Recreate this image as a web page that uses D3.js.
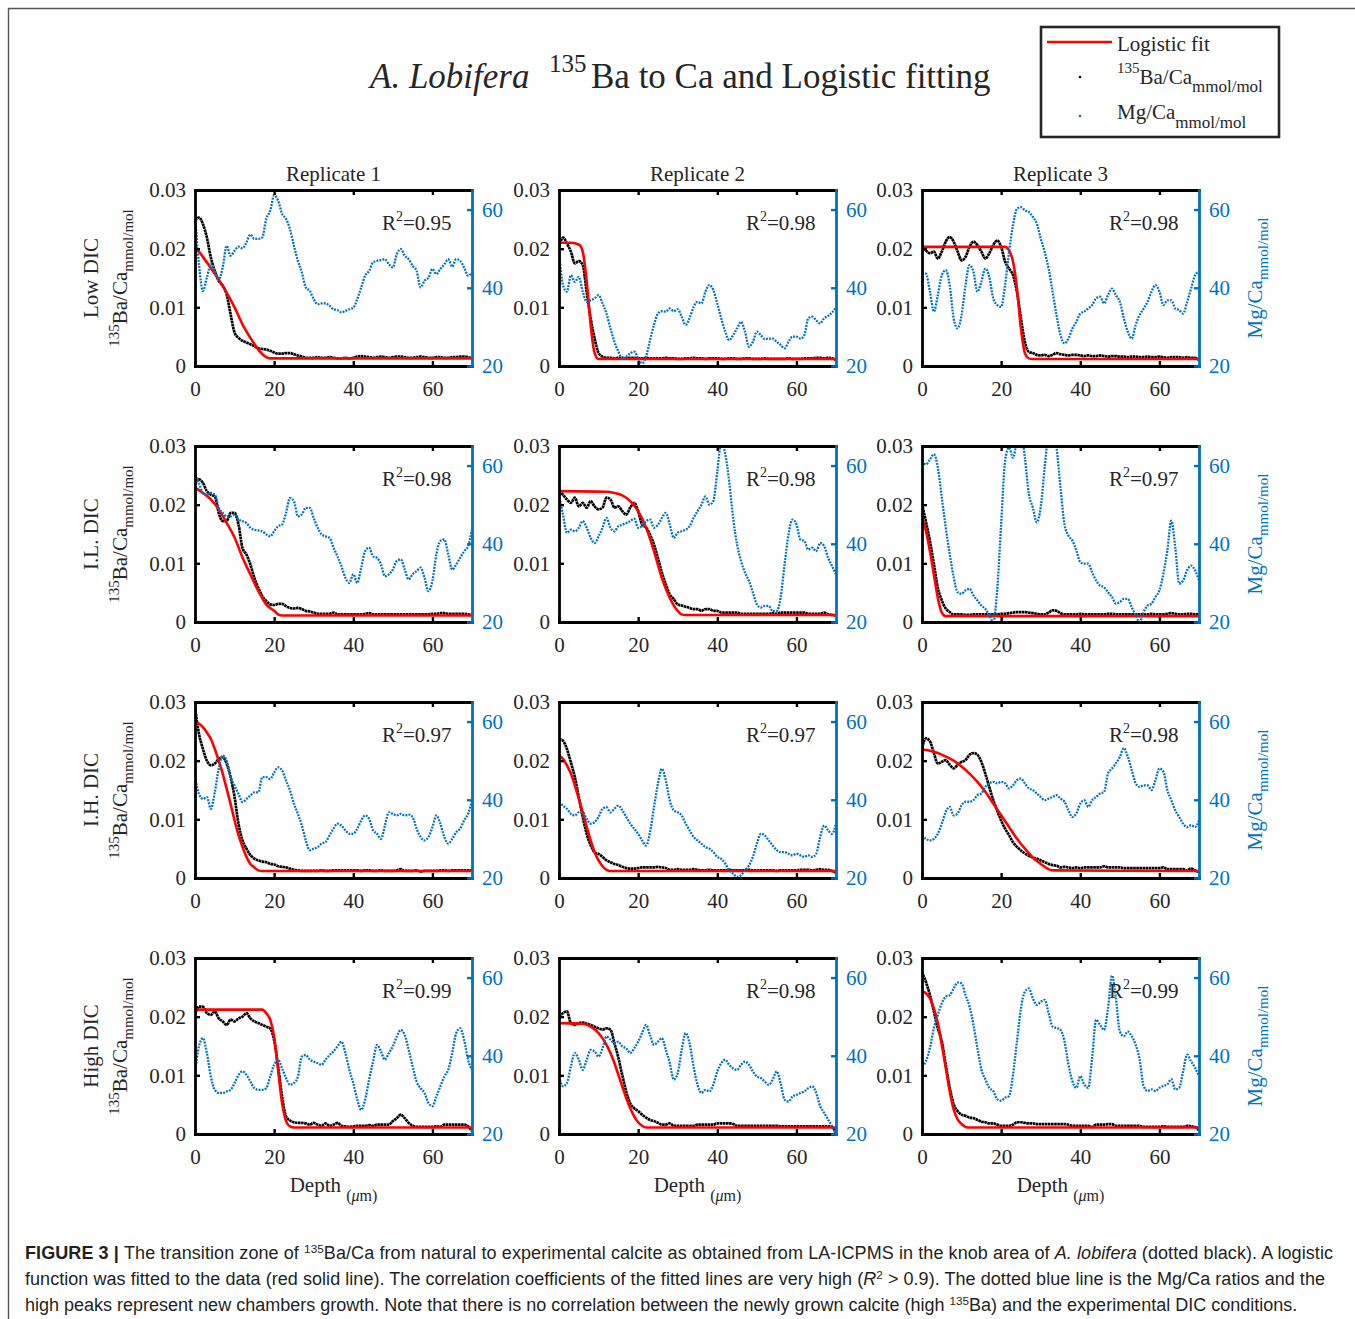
<!DOCTYPE html>
<html><head><meta charset="utf-8">
<script src="https://cdn.jsdelivr.net/npm/d3@7"></script>
<style>
html,body{margin:0;padding:0;background:#fff;}
svg{display:block;}
</style></head>
<body>
<svg id="fig" width="1355" height="1319"></svg>
<script>
// ---------------- DATA ----------------
const depth = [0,1,2,3,4,5,6,7,8,9,10,11,12,13,14,15,16,17,18,19,20,21,22,23,24,25,26,27,28,29,30,31,32,33,34,35,36,37,38,39,40,41,42,43,44,45,46,47,48,49,50,51,52,53,54,55,56,57,58,59,60,61,62,63,64,65,66,67,68,69,70];
const rowNames = ["Low DIC","I.L. DIC","I.H. DIC","High DIC"];
const colNames = ["Replicate 1","Replicate 2","Replicate 3"];
const r2Values = [["0.95","0.98","0.98"],["0.98","0.98","0.97"],["0.97","0.97","0.98"],["0.99","0.98","0.99"]];
const xTicks = [0,20,40,60];
const baTicks = [0,0.01,0.02,0.03];
const baTickLabels = ["0","0.01","0.02","0.03"];
const mgTicks = [20,40,60];

// Low DIC
const baLow1 = [0.0248,0.0253,0.0242,0.0219,0.0185,0.0162,0.0145,0.0137,0.0122,0.0088,0.0057,0.0048,0.0043,0.0040,0.0037,0.0034,0.0030,0.0029,0.0028,0.0026,0.0023,0.0021,0.0021,0.0022,0.0022,0.0020,0.0018,0.0016,0.0014,0.0014,0.0014,0.0015,0.0014,0.0014,0.0015,0.0014,0.0013,0.0013,0.0014,0.0013,0.0014,0.0016,0.0017,0.0016,0.0015,0.0014,0.0015,0.0016,0.0015,0.0014,0.0015,0.0016,0.0016,0.0015,0.0014,0.0014,0.0015,0.0016,0.0015,0.0014,0.0014,0.0015,0.0015,0.0014,0.0014,0.0015,0.0015,0.0016,0.0016,0.0015,0.0013];
const mgLow1 = [59,46,39.2,42.6,46,44.3,42.2,45.2,50.7,48.2,49.5,50.5,50.1,51.6,53.6,52.5,52.5,52.9,57.6,59.7,63.6,62.3,58.9,57.6,55,50.7,46.9,43.9,40.1,39.2,37.1,35.8,36,36,35.4,34.5,34.3,33.7,34.1,34.5,34.9,37.1,40.1,43.1,44.3,46.5,46.9,47.1,47.3,46,45.2,48.6,49.9,48.2,47.3,45.6,44.3,40.1,41.8,42.6,44.8,43.5,44.8,46,47.3,45.4,47.3,46.9,45.2,43.1,43.9];
const fitLow1x = [0,2,4,6,8,10,12,14,16,18,19,70];
const fitLow1y = [0.0204,0.0186,0.0167,0.0147,0.0125,0.0100,0.0071,0.0048,0.0028,0.0015,0.0013,0.0013];

const baLow2 = [0.0203,0.0219,0.0209,0.0195,0.0175,0.0179,0.0172,0.0126,0.0081,0.0047,0.0022,0.0016,0.0014,0.0014,0.0013,0.0014,0.0014,0.0013,0.0014,0.0014,0.0013,0.0013,0.0014,0.0013,0.0013,0.0013,0.0013,0.0014,0.0013,0.0013,0.0012,0.0012,0.0013,0.0013,0.0014,0.0013,0.0013,0.0012,0.0013,0.0013,0.0013,0.0012,0.0012,0.0013,0.0013,0.0012,0.0012,0.0013,0.0013,0.0012,0.0012,0.0012,0.0013,0.0012,0.0012,0.0012,0.0012,0.0012,0.0013,0.0012,0.0012,0.0012,0.0013,0.0013,0.0013,0.0014,0.0014,0.0013,0.0014,0.0013,0.0010];
const mgLow2 = [49.2,40.7,39,43.2,41.5,42.8,39,36.4,36.8,37.3,38.1,36,33.4,29.6,26.2,23.7,21.8,22.4,23.2,23.7,22,20.7,22.4,26.6,30.5,33.4,34,33.9,34.7,34,34.5,32.6,30.5,32.2,35.1,36.4,36,39,40.7,39.4,36,32.2,28.8,26.6,27.9,29.6,31.3,28.8,24.9,26.2,28.8,27.9,26.9,27,27,26.2,25.4,24.5,26.2,27.5,27.5,27,27.9,32.2,32.6,31.7,30.9,32.2,32.8,33.7,34.9];
const fitLow2x = [0,3,5,6,7,8,9,10,11,70];
const fitLow2y = [0.0210,0.0210,0.0207,0.0195,0.0144,0.0070,0.0022,0.0012,0.0012,0.0012];

const baLow3 = [0.0206,0.0197,0.0192,0.0195,0.0183,0.0195,0.0212,0.0220,0.0212,0.0195,0.0180,0.0186,0.0203,0.0212,0.0206,0.0195,0.0183,0.0192,0.0206,0.0214,0.0203,0.0178,0.0166,0.0155,0.0126,0.0081,0.0041,0.0024,0.0022,0.0019,0.0018,0.0019,0.0017,0.0019,0.0022,0.0020,0.0019,0.0018,0.0019,0.0019,0.0018,0.0017,0.0018,0.0017,0.0017,0.0018,0.0017,0.0016,0.0017,0.0017,0.0016,0.0016,0.0015,0.0016,0.0016,0.0015,0.0015,0.0016,0.0015,0.0015,0.0016,0.0015,0.0014,0.0015,0.0015,0.0015,0.0014,0.0015,0.0014,0.0014,0.0010];
const mgLow3 = [43.6,43.6,39,33.9,38.1,43.2,44.5,40.7,32.2,29.6,33,40.7,45.8,44.1,39,41.5,44.9,42.8,37.3,35.6,35.1,40.7,49.2,56,60.2,60.6,59.8,59.4,58.1,56.4,52.6,49.2,44.9,39,33,27.9,25.8,27,29.6,31.3,33.4,33.9,34.7,35.6,37.3,37.7,36,38.1,39.8,38.1,36.4,32.2,28.8,27,30.5,33,34.7,36.4,39,40.7,39,35.6,36.8,36.8,34.7,34.3,33.4,36.4,39.8,43.2,44.1];
const fitLow3x = [0,21,22,23,24,25,26,27,28,70];
const fitLow3y = [0.0203,0.0203,0.0197,0.0178,0.0132,0.0064,0.0022,0.0013,0.0012,0.0012];

// I.L. DIC
const baIL1 = [0.0234,0.0243,0.0237,0.0223,0.0217,0.0214,0.0186,0.0172,0.0172,0.0186,0.0186,0.0166,0.0126,0.0115,0.0098,0.0075,0.0058,0.0044,0.0036,0.0030,0.0029,0.0031,0.0031,0.0027,0.0024,0.0023,0.0024,0.0022,0.0019,0.0018,0.0016,0.0014,0.0014,0.0014,0.0014,0.0016,0.0013,0.0013,0.0013,0.0013,0.0013,0.0013,0.0013,0.0014,0.0015,0.0013,0.0013,0.0013,0.0013,0.0013,0.0013,0.0013,0.0013,0.0013,0.0013,0.0013,0.0013,0.0013,0.0013,0.0013,0.0014,0.0014,0.0015,0.0015,0.0014,0.0014,0.0014,0.0014,0.0014,0.0013,0.0012];
const mgIL1 = [57.7,55.5,53,52.6,53,52.6,49.2,47.9,47,47,47.5,46.2,45.8,45.3,44.1,43.6,43.4,43.2,42.4,41.9,43.2,44.5,44.9,47.9,51.7,50.9,47,47.5,49.2,49.2,46.6,44.1,42.4,41.9,41.5,39,36.8,34.3,31.3,30,32.2,30,33.9,38.1,39,36.8,36.4,34.7,31.7,32.2,33.4,35.6,36,33.4,30.9,32.2,33,33.9,31.3,27.9,30.5,37.3,40.7,41.1,37.3,33.4,34.7,36.4,38.1,39.4,43.6];
const fitIL1x = [0,2,4,6,8,10,12,14,16,18,20,21,22,70];
const fitIL1y = [0.0229,0.0220,0.0209,0.0192,0.0169,0.0144,0.0110,0.0081,0.0053,0.0030,0.0019,0.0013,0.0011,0.0011];

const baIL2 = [0.0223,0.0217,0.0209,0.0203,0.0212,0.0197,0.0203,0.0195,0.0206,0.0197,0.0192,0.0195,0.0212,0.0209,0.0195,0.0197,0.0189,0.0183,0.0195,0.0203,0.0189,0.0166,0.0161,0.0149,0.0132,0.0109,0.0084,0.0064,0.0047,0.0039,0.0030,0.0028,0.0026,0.0024,0.0022,0.0022,0.0019,0.0022,0.0022,0.0019,0.0019,0.0016,0.0016,0.0016,0.0016,0.0016,0.0014,0.0014,0.0014,0.0014,0.0014,0.0014,0.0014,0.0014,0.0015,0.0014,0.0016,0.0016,0.0016,0.0016,0.0016,0.0016,0.0016,0.0014,0.0014,0.0014,0.0014,0.0016,0.0013,0.0012,0.0011];
const mgIL2 = [52.6,47.5,42.8,43.6,43.2,44.1,45.8,44.1,41.5,40.2,41.9,44.1,46.6,44.1,43.2,44.5,44.9,45.3,45.8,46.4,44.1,44.5,45.8,46.2,44.1,44.9,46.6,47.9,44.9,41.5,42.8,43.2,43.6,44.5,46.6,48.3,50,52.1,50,50.9,58.5,66,63,56,46.6,39.8,35.6,32.6,30.5,27.5,24.5,23.7,24.1,24.1,22.8,22.8,26.2,34.7,42.4,46.2,44.9,41.1,40.7,38.5,39,38.1,40.2,39.4,36.4,34.3,32.2];
const fitIL2x = [0,12,14,16,18,20,22,24,26,28,30,31,32,70];
const fitIL2y = [0.0223,0.0222,0.0220,0.0216,0.0206,0.0189,0.0161,0.0121,0.0075,0.0041,0.0019,0.0013,0.0012,0.0012];

const baIL3 = [0.0201,0.0171,0.0138,0.0099,0.0058,0.0037,0.0023,0.0017,0.0013,0.0013,0.0013,0.0012,0.0012,0.0013,0.0013,0.0013,0.0013,0.0013,0.0013,0.0013,0.0014,0.0014,0.0015,0.0016,0.0017,0.0017,0.0017,0.0016,0.0015,0.0014,0.0013,0.0013,0.0016,0.0020,0.0019,0.0015,0.0013,0.0013,0.0013,0.0013,0.0014,0.0013,0.0013,0.0013,0.0013,0.0013,0.0013,0.0014,0.0014,0.0013,0.0013,0.0013,0.0013,0.0013,0.0013,0.0013,0.0013,0.0013,0.0014,0.0013,0.0013,0.0013,0.0014,0.0015,0.0014,0.0013,0.0013,0.0014,0.0014,0.0013,0.0013];
const mgIL3 = [61.2,60.3,61.6,62.9,59.5,51.8,44.2,37.4,31.5,27.6,27.2,28.1,28.5,26.8,25.5,24.2,23.4,21.7,20,28.1,45,61.2,64.6,62,66.3,68.8,62,52.7,49.3,45.5,49.3,59.5,68,69.7,64.6,54.4,45,42.1,40.8,38.3,35.3,34.9,34.9,32.7,30.6,29.3,28.9,27.6,26.4,24.7,25.1,25.9,25.9,23.8,21.7,20,22.5,24.2,24.7,26.4,28.1,32.3,38.3,45.9,39.1,29.8,30.6,33.2,34.4,33.2,30.6];
const fitIL3x = [0,1,2,3,4,5,6,70];
const fitIL3y = [0.0177,0.0155,0.0121,0.0081,0.0041,0.0016,0.0010,0.0010];

// I.H. DIC
const baIH1 = [0.0291,0.0246,0.0220,0.0200,0.0192,0.0195,0.0203,0.0206,0.0195,0.0172,0.0138,0.0092,0.0064,0.0050,0.0039,0.0033,0.0030,0.0028,0.0027,0.0024,0.0023,0.0020,0.0019,0.0018,0.0016,0.0014,0.0013,0.0012,0.0012,0.0012,0.0012,0.0012,0.0013,0.0012,0.0012,0.0013,0.0013,0.0013,0.0013,0.0013,0.0013,0.0013,0.0012,0.0013,0.0013,0.0012,0.0012,0.0013,0.0012,0.0012,0.0012,0.0013,0.0015,0.0012,0.0012,0.0012,0.0013,0.0011,0.0012,0.0012,0.0012,0.0012,0.0013,0.0013,0.0012,0.0013,0.0013,0.0013,0.0013,0.0013,0.0013];
const mgIH1 = [45.8,41.5,40.2,40.7,37.7,41.9,47.9,51.3,50,45.8,43.6,41.5,39.4,40.2,41.1,41.9,41.9,45.8,45.8,45.3,47,48.3,47.5,44.9,42.4,39,36.4,33.4,29.6,27.1,27.5,27.9,28.8,29.2,30.9,32.6,33.9,33.4,32.2,31.3,31.3,32.6,34.7,36,35.1,32.2,31.3,30,33.4,36.8,36.4,36,36.4,36,36.2,35.6,32.6,30.5,29.6,30.5,33,36,33.9,30.5,28.8,30,31.7,32.6,34.7,36.4,39.8];
const fitIH1x = [0,1,2,3,4,5,6,7,8,9,10,11,12,13,14,15,16,17,70];
const fitIH1y = [0.0265,0.0263,0.0257,0.0248,0.0237,0.0220,0.0200,0.0178,0.0152,0.0126,0.0098,0.0073,0.0053,0.0036,0.0024,0.0018,0.0013,0.0012,0.0012];

const baIH2 = [0.0237,0.0234,0.0220,0.0197,0.0172,0.0138,0.0104,0.0075,0.0056,0.0044,0.0041,0.0036,0.0030,0.0027,0.0024,0.0022,0.0019,0.0017,0.0016,0.0016,0.0017,0.0018,0.0018,0.0018,0.0018,0.0019,0.0018,0.0017,0.0014,0.0014,0.0015,0.0014,0.0014,0.0014,0.0015,0.0014,0.0013,0.0013,0.0014,0.0013,0.0013,0.0013,0.0013,0.0014,0.0013,0.0013,0.0013,0.0013,0.0014,0.0013,0.0013,0.0013,0.0013,0.0013,0.0013,0.0012,0.0013,0.0013,0.0013,0.0013,0.0013,0.0014,0.0014,0.0014,0.0013,0.0014,0.0015,0.0014,0.0014,0.0012,0.0009];
const mgIH2 = [39.4,38.5,37.7,36.4,36,36.8,36.8,35.1,33.9,34.3,35.6,37.7,38.1,36.8,37.7,38.5,37.3,35.6,33.9,32.6,31.3,29.6,28.3,31.7,38.1,44.1,47.9,44.9,39.8,37.3,36.8,36,33.9,32.2,30.5,29.6,28.8,27.9,27.5,26.6,25.4,24.9,23.7,22,21.1,20.3,20.7,22,23.2,25.4,28.8,31.3,30.9,29.6,28.3,27.1,26.6,26.6,26.2,25.8,26.2,25.8,25.4,25.8,25.4,26.2,30.5,33.4,32.2,31.3,33.9];
const fitIH2x = [0,1,2,3,4,5,6,7,8,9,10,11,12,13,70];
const fitIH2y = [0.0209,0.0203,0.0192,0.0178,0.0158,0.0135,0.0112,0.0087,0.0064,0.0044,0.0030,0.0020,0.0014,0.0012,0.0012];

const baIH3 = [0.0221,0.0238,0.0233,0.0213,0.0195,0.0198,0.0201,0.0193,0.0187,0.0193,0.0198,0.0201,0.0210,0.0213,0.0210,0.0198,0.0178,0.0155,0.0133,0.0115,0.0098,0.0084,0.0073,0.0061,0.0053,0.0047,0.0042,0.0038,0.0035,0.0033,0.0030,0.0027,0.0024,0.0022,0.0021,0.0018,0.0019,0.0018,0.0017,0.0018,0.0017,0.0018,0.0018,0.0018,0.0018,0.0018,0.0020,0.0018,0.0018,0.0018,0.0018,0.0017,0.0017,0.0017,0.0017,0.0017,0.0017,0.0017,0.0017,0.0017,0.0017,0.0018,0.0015,0.0015,0.0015,0.0015,0.0015,0.0013,0.0016,0.0013,0.0010];
const mgIH3 = [30.9,30,29.6,30,31.3,33.9,36.9,38.2,36,36.5,38.6,39.5,39.5,39.9,41.2,41.6,43.3,44.2,44.6,44.2,44.6,44.2,42.9,43.7,45,45.4,44.2,42.9,42.5,41.6,40.7,39.9,40.3,40.7,41.2,40.3,39.5,37.3,35.6,36.5,39,39.9,38.2,39.9,40.7,41.6,42,46.7,48,49.3,51,53.2,51,47.6,44.2,43.3,43.7,43.7,42.5,45,48,47.2,42.5,39.9,37.3,35.6,33.9,33,33.5,33,34.7];
const fitIH3x = [0,2,4,6,8,10,12,14,16,18,20,22,24,26,28,30,32,33,70];
const fitIH3y = [0.0219,0.0217,0.0213,0.0207,0.0200,0.0190,0.0178,0.0164,0.0147,0.0127,0.0107,0.0087,0.0067,0.0050,0.0035,0.0024,0.0015,0.0013,0.0012];

// High DIC
const baHigh1 = [0.0203,0.0217,0.0217,0.0206,0.0203,0.0209,0.0197,0.0192,0.0186,0.0195,0.0192,0.0197,0.0200,0.0206,0.0197,0.0192,0.0189,0.0186,0.0183,0.0180,0.0160,0.0115,0.0064,0.0030,0.0023,0.0020,0.0019,0.0019,0.0018,0.0016,0.0019,0.0016,0.0014,0.0018,0.0014,0.0016,0.0019,0.0014,0.0013,0.0012,0.0013,0.0014,0.0014,0.0014,0.0015,0.0014,0.0016,0.0016,0.0016,0.0016,0.0022,0.0027,0.0033,0.0027,0.0019,0.0014,0.0012,0.0012,0.0012,0.0012,0.0012,0.0013,0.0012,0.0016,0.0016,0.0016,0.0016,0.0016,0.0016,0.0013,0.0005];
const mgHigh1 = [35.6,42.4,44.5,40.7,34.7,31.3,30.5,30.5,30.9,31.3,33,35.1,36,35.1,33.4,31.7,31.3,31.3,31.7,34.7,37.7,39,36.8,34.3,32.6,33,34.7,39.8,40.2,39,38.5,38.1,37.7,39,40.2,41.1,42.4,43.6,40.7,36.4,33,28.8,26.2,28.8,33.9,38.5,42.8,41.1,39,40.7,42.4,44.9,46.6,45.3,41.5,37.3,33.4,31.7,30.5,27.9,27.1,29.6,32.2,34.7,36.4,40.7,45.8,47,44.1,39,36.4];
const fitHigh1x = [0,17,18,19,20,21,22,23,24,25,70];
const fitHigh1y = [0.0212,0.0212,0.0206,0.0195,0.0166,0.0109,0.0053,0.0022,0.0013,0.0011,0.0011];

const baHigh2 = [0.0200,0.0206,0.0209,0.0189,0.0186,0.0189,0.0190,0.0188,0.0186,0.0183,0.0180,0.0178,0.0180,0.0178,0.0155,0.0130,0.0100,0.0072,0.0052,0.0044,0.0039,0.0033,0.0028,0.0024,0.0022,0.0019,0.0016,0.0016,0.0018,0.0014,0.0014,0.0014,0.0014,0.0014,0.0014,0.0016,0.0016,0.0016,0.0016,0.0016,0.0018,0.0018,0.0018,0.0018,0.0017,0.0014,0.0014,0.0014,0.0014,0.0014,0.0014,0.0014,0.0014,0.0014,0.0014,0.0014,0.0013,0.0013,0.0013,0.0013,0.0013,0.0013,0.0013,0.0013,0.0013,0.0013,0.0013,0.0013,0.0013,0.0012,0.0002];
const mgHigh2 = [34.7,32.2,33,37.3,40.7,39,36.4,39,41.5,41.1,39.8,41.9,44.9,44.1,43.2,43.6,42.4,41.9,40.7,41.9,43.6,45.8,47.9,45.3,42.8,43.6,44.5,41.5,38.1,33.9,35.6,41.5,45.8,43.2,37.3,32.6,30.5,31.3,30.9,32.6,36,38.1,39,37.7,36.8,36.4,37.7,38.5,37.7,36,34.7,34.3,33.4,32.6,33.9,36,33,28.8,28.3,29.6,30,30.5,30.9,31.7,32.2,30.5,27.1,25.4,23.7,22,19.8];
const fitHigh2x = [0,6,8,10,11,12,13,14,15,16,17,18,19,20,21,22,70];
const fitHigh2y = [0.0189,0.0188,0.0183,0.0172,0.0163,0.0152,0.0138,0.0121,0.0101,0.0081,0.0061,0.0044,0.0030,0.0020,0.0014,0.0011,0.0011];

const baHigh3 = [0.0276,0.0259,0.0237,0.0209,0.0180,0.0158,0.0118,0.0079,0.0051,0.0039,0.0033,0.0031,0.0028,0.0027,0.0024,0.0021,0.0020,0.0018,0.0018,0.0016,0.0014,0.0014,0.0014,0.0016,0.0020,0.0020,0.0019,0.0018,0.0018,0.0017,0.0017,0.0017,0.0017,0.0017,0.0017,0.0017,0.0017,0.0016,0.0014,0.0014,0.0014,0.0014,0.0014,0.0012,0.0016,0.0016,0.0016,0.0017,0.0017,0.0014,0.0014,0.0014,0.0014,0.0014,0.0014,0.0014,0.0012,0.0012,0.0012,0.0012,0.0012,0.0013,0.0012,0.0012,0.0012,0.0012,0.0012,0.0014,0.0013,0.0012,0.0006];
const mgHigh3 = [37.3,38.6,42,47.1,50.5,53.4,55.1,55.5,57.2,58.7,58.5,55.5,52.6,47.9,42,36.5,34,31.8,31,28.9,28.5,29.3,29.7,35.2,43.7,52.1,56.4,57.2,54.7,53,53.8,54.3,50.9,47.5,47.1,46.6,43.7,37.8,33.5,31.8,34.8,32.7,31.8,39.5,49.2,47.9,46.6,52.1,60.5,54.7,46.2,45,46.2,45,42.8,39,32.3,31,31.4,31,31.8,32.3,32.7,34,31.4,31.8,36.1,40.3,38.6,36.9,34.8];
const fitHigh3x = [0,1,2,3,4,5,6,7,8,9,10,11,12,70];
const fitHigh3y = [0.0244,0.0240,0.0231,0.0214,0.0189,0.0152,0.0113,0.0073,0.0042,0.0025,0.0017,0.0012,0.0011,0.0011];

// ---------------- LAYOUT ----------------
const panels = [
  [{ba:baLow1,mg:mgLow1,fx:fitLow1x,fy:fitLow1y},{ba:baLow2,mg:mgLow2,fx:fitLow2x,fy:fitLow2y},{ba:baLow3,mg:mgLow3,fx:fitLow3x,fy:fitLow3y}],
  [{ba:baIL1,mg:mgIL1,fx:fitIL1x,fy:fitIL1y},{ba:baIL2,mg:mgIL2,fx:fitIL2x,fy:fitIL2y},{ba:baIL3,mg:mgIL3,fx:fitIL3x,fy:fitIL3y}],
  [{ba:baIH1,mg:mgIH1,fx:fitIH1x,fy:fitIH1y},{ba:baIH2,mg:mgIH2,fx:fitIH2x,fy:fitIH2y},{ba:baIH3,mg:mgIH3,fx:fitIH3x,fy:fitIH3y}],
  [{ba:baHigh1,mg:mgHigh1,fx:fitHigh1x,fy:fitHigh1y},{ba:baHigh2,mg:mgHigh2,fx:fitHigh2x,fy:fitHigh2y},{ba:baHigh3,mg:mgHigh3,fx:fitHigh3x,fy:fitHigh3y}]
];

const SERIF = "'Liberation Serif','Times New Roman',Times,serif";
const SANS = "'Liberation Sans',Arial,Helvetica,sans-serif";
const BLUE = "#0072BD", RED = "#FF0000", INK = "#262626";
const PW = 277, PH = 176;
const colX = [195, 559, 922];
const rowY = [190, 446, 702, 958];
const FS = 21;

const svg = d3.select("#fig");
svg.append("rect").attr("width",1355).attr("height",1319).attr("fill","#fff");

// outer frame (top + left)
svg.append("path").attr("d","M8.5,1319 V8.5 H1355").attr("fill","none").attr("stroke","#555").attr("stroke-width",1.4);

const defs = svg.append("defs");

panels.forEach((row, r) => row.forEach((p, c) => {
  const x0 = colX[c], y0 = rowY[r];
  const x = d3.scaleLinear().domain([0,70]).range([x0, x0+PW]);
  const yL = d3.scaleLinear().domain([0,0.03]).range([y0+PH, y0]);
  const yR = d3.scaleLinear().domain([20,65]).range([y0+PH, y0]);
  const id = `clip-${r}-${c}`;
  defs.append("clipPath").attr("id", id).append("rect")
    .attr("x", x0).attr("y", y0).attr("width", PW).attr("height", PH);
  const g = svg.append("g");
  const plot = g.append("g").attr("clip-path", `url(#${id})`);

  // Ba/Ca (black, dense dots)
  plot.append("path")
    .datum(depth.map((d,i)=>[d, p.ba[i]]))
    .attr("d", d3.line().x(d=>x(d[0])).y(d=>yL(d[1])).curve(d3.curveMonotoneX))
    .attr("fill","none").attr("stroke","#000").attr("stroke-width",2.7)
    .attr("stroke-dasharray","2.6,0.5");

  // logistic fit (red)
  plot.append("path")
    .datum(p.fx.map((d,i)=>[d, p.fy[i]]))
    .attr("d", d3.line().x(d=>x(d[0])).y(d=>yL(d[1])).curve(d3.curveMonotoneX))
    .attr("fill","none").attr("stroke",RED).attr("stroke-width",2.6);

  // Mg/Ca (blue dots)
  plot.append("path")
    .datum(depth.map((d,i)=>[d, p.mg[i]]))
    .attr("d", d3.line().x(d=>x(d[0])).y(d=>yR(d[1])).curve(d3.curveMonotoneX))
    .attr("fill","none").attr("stroke",BLUE).attr("stroke-width",2.3)
    .attr("stroke-dasharray","1.9,1.2");

  // axes
  const styleAxis = (sel, color) => {
    sel.select(".domain").attr("stroke", color).attr("stroke-width", 2.8).attr("stroke-linecap","square");
    sel.selectAll(".tick line").attr("stroke", color).attr("stroke-width", 2.4);
    sel.selectAll(".tick text").attr("fill", color).attr("font-family", SERIF).attr("font-size", FS);
  };
  const gTop = g.append("g").attr("transform",`translate(0,${y0})`)
    .call(d3.axisTop(x).tickValues([20,40,60]).tickSizeInner(-5).tickSizeOuter(0).tickFormat(""));
  styleAxis(gTop, "#000");
  const gBot = g.append("g").attr("transform",`translate(0,${y0+PH})`)
    .call(d3.axisBottom(x).tickValues(xTicks).tickSizeInner(-5).tickSizeOuter(0).tickPadding(15));
  styleAxis(gBot, "#000");
  gBot.selectAll(".tick text").attr("fill", INK);
  const gLeft = g.append("g").attr("transform",`translate(${x0},0)`)
    .call(d3.axisLeft(yL).tickValues(baTicks).tickSizeInner(-5).tickSizeOuter(0).tickPadding(9)
      .tickFormat((d,i)=>baTickLabels[i]));
  styleAxis(gLeft, "#000");
  gLeft.selectAll(".tick text").attr("fill", INK);
  const gRight = g.append("g").attr("transform",`translate(${x0+PW},0)`)
    .call(d3.axisRight(yR).tickValues(mgTicks).tickSizeInner(-5).tickSizeOuter(0).tickPadding(10));
  styleAxis(gRight, BLUE);

  // R^2 label
  const rt = g.append("text").attr("x", x0+187).attr("y", y0+40)
    .attr("font-family", SERIF).attr("font-size", FS).attr("fill", INK);
  rt.append("tspan").text("R");
  rt.append("tspan").attr("font-size",14).attr("dy",-9).text("2");
  rt.append("tspan").attr("dy",9).text("=" + r2Values[r][c]);

  // column titles
  if (r === 0) {
    g.append("text").attr("x", x0+PW/2).attr("y", y0-9).attr("text-anchor","middle")
      .attr("font-family", SERIF).attr("font-size", FS).attr("fill", INK).text(colNames[c]);
  }
  // depth labels
  if (r === 3) {
    const dt = g.append("text").attr("x", x0+PW/2).attr("y", y0+PH+58).attr("text-anchor","middle")
      .attr("font-family", SERIF).attr("font-size", FS).attr("fill", INK);
    dt.append("tspan").text("Depth ");
    dt.append("tspan").attr("font-size",16).attr("dy",9).text("(");
    dt.append("tspan").attr("font-size",16).attr("font-style","italic").text("\u03bc");
    dt.append("tspan").attr("font-size",16).text("m)");
  }
  // left row labels
  if (c === 0) {
    const gl = g.append("g").attr("transform",`translate(98,${y0+PH/2}) rotate(-90)`);
    gl.append("text").attr("text-anchor","middle").attr("font-family",SERIF).attr("font-size",FS)
      .attr("fill",INK).text(rowNames[r]);
    const t2 = gl.append("text").attr("y",29).attr("text-anchor","middle").attr("font-family",SERIF)
      .attr("font-size",FS).attr("fill",INK);
    t2.append("tspan").attr("font-size",15).attr("dy",-8).text("135");
    t2.append("tspan").attr("dy",8).text("Ba/Ca");
    t2.append("tspan").attr("font-size",15).attr("dy",6).text("mmol/mol");
  }
  // right labels
  if (c === 2) {
    const gr = g.append("g").attr("transform",`translate(1262,${y0+PH/2}) rotate(-90)`);
    const t3 = gr.append("text").attr("text-anchor","middle").attr("font-family",SERIF)
      .attr("font-size",FS).attr("fill",BLUE);
    t3.append("tspan").text("Mg/Ca");
    t3.append("tspan").attr("font-size",15).attr("dy",6).text("mmol/mol");
  }
}));

// ---------------- TITLE ----------------
svg.append("text").attr("x",370).attr("y",88).attr("font-family",SERIF).attr("font-size",35)
  .attr("font-style","italic").attr("fill",INK).text("A. Lobifera");
svg.append("text").attr("x",549).attr("y",72).attr("font-family",SERIF).attr("font-size",25)
  .attr("fill",INK).text("135");
svg.append("text").attr("x",591).attr("y",88).attr("font-family",SERIF).attr("font-size",35)
  .attr("fill",INK).text("Ba to Ca and Logistic fitting");

// ---------------- LEGEND ----------------
const lg = svg.append("g");
lg.append("rect").attr("x",1041).attr("y",27).attr("width",238).attr("height",110)
  .attr("fill","#fff").attr("stroke","#262626").attr("stroke-width",2.6);
lg.append("line").attr("x1",1047).attr("x2",1112).attr("y1",42).attr("y2",42)
  .attr("stroke",RED).attr("stroke-width",2.6);
lg.append("text").attr("x",1117).attr("y",51).attr("font-family",SERIF).attr("font-size",FS)
  .attr("fill",INK).text("Logistic fit");
lg.append("circle").attr("cx",1080).attr("cy",77).attr("r",1.3).attr("fill","#000");
const l2 = lg.append("text").attr("x",1117).attr("y",84).attr("font-family",SERIF).attr("font-size",FS).attr("fill",INK);
l2.append("tspan").attr("font-size",15).attr("dy",-11).text("135");
l2.append("tspan").attr("dy",11).text("Ba/Ca");
l2.append("tspan").attr("font-size",17).attr("dy",8).text("mmol/mol");
lg.append("circle").attr("cx",1080).attr("cy",116).attr("r",1.3).attr("fill",BLUE);
const l3 = lg.append("text").attr("x",1117).attr("y",119).attr("font-family",SERIF).attr("font-size",FS).attr("fill",INK);
l3.append("tspan").text("Mg/Ca");
l3.append("tspan").attr("font-size",17).attr("dy",9).text("mmol/mol");

// ---------------- CAPTION ----------------
const capLines = [
  [["b","FIGURE 3 | "],["n","The transition zone of "],["s","135"],["n","Ba/Ca from natural to experimental calcite as obtained from LA-ICPMS in the knob area of "],["i","A. lobifera"],["n"," (dotted black). A logistic"]],
  [["n","function was fitted to the data (red solid line). The correlation coefficients of the fitted lines are very high ("],["i","R"],["s","2"],["n"," > 0.9). The dotted blue line is the Mg/Ca ratios and the"]],
  [["n","high peaks represent new chambers growth. Note that there is no correlation between the newly grown calcite (high "],["s","135"],["n","Ba) and the experimental DIC conditions."]]
];
const capBase = [1259, 1285, 1311];
const capWidth = [1308, 1300, null];
let capFS = 17;
const capTexts = capLines.map((parts, li) => {
  const t = svg.append("text").attr("x",25).attr("y",capBase[li]).attr("font-family",SANS)
    .attr("font-size",capFS).attr("fill","#231f20");
  let raised = false;
  parts.forEach(([k, s]) => {
    const ts = t.append("tspan").text(s);
    if (k === "b") ts.attr("font-weight","bold");
    if (k === "i") ts.attr("font-style","italic");
    if (k === "s") { ts.attr("font-size", capFS*0.65).attr("dy",-6); raised = true; }
    else if (raised) { ts.attr("dy",6); raised = false; }
  });
  return t;
});
// fit font size so the first (justified) line fits its measured width
const w0 = capTexts[0].node().getComputedTextLength();
const fs2 = Math.max(14, Math.min(18, capFS * 1300 / w0));
capTexts.forEach((t) => {
  t.attr("font-size", fs2);
  t.selectAll("tspan").filter(function(){ return this.getAttribute("dy")==="-6"; }).attr("font-size", fs2*0.65);
});
capTexts.forEach((t, i) => {
  if (capWidth[i]) t.attr("textLength", capWidth[i]).attr("lengthAdjust","spacing");
});
</script>
</body></html>
